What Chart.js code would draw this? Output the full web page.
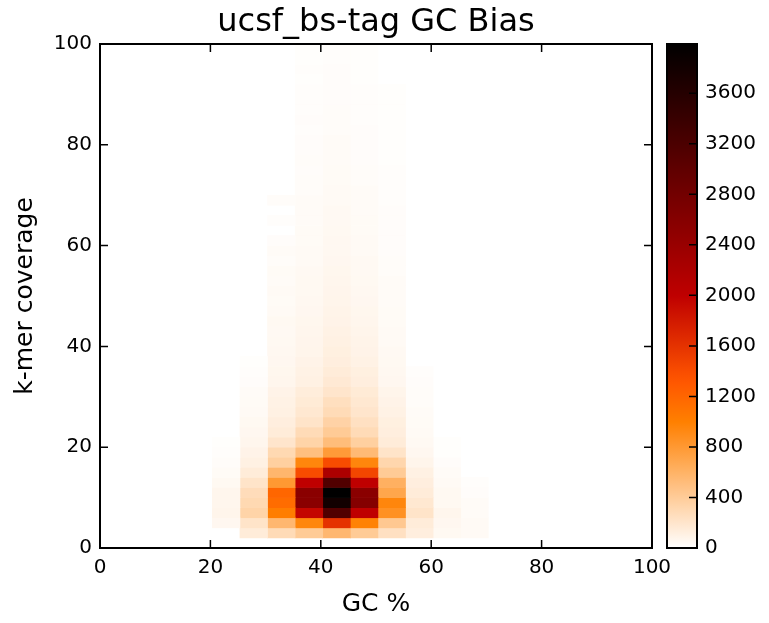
<!DOCTYPE html>
<html>
<head>
<meta charset="UTF-8">
<title>ucsf_bs-tag GC Bias</title>
<script src="https://cdn.jsdelivr.net/npm/chart.js"></script>
<style>
  body { margin: 0; background: #fff; }
  #wrap { position: relative; width: 769px; height: 623px; }
  #main { position: absolute; left: 0; top: 0; }
  #cbar { position: absolute; left: 665px; top: 0; }
</style>
</head>
<body>
<div id="wrap">
  <canvas id="main" width="769" height="623"></canvas>
  <canvas id="cbar" width="104" height="623"></canvas>
</div>
<script>
// GC % bin starts (width 5) and k-mer coverage bin starts (height 2)
const gcBins = [20.35, 25.35, 30.35, 35.35, 40.35, 45.35, 50.35, 55.35, 60.35, 65.35];
const covBins = [2,4,6,8,10,12,14,16,18,20,22,24,26,28,30,32,34,36,38,40,42,44,46,48,50,
                 52,54,56,58,60,62,64,66,68,70,72,74,76,78,80,82,84,86,88,90,92,94,96,98];
const binW = 5, binH = 2;

// counts per GC column, from coverage 2 upwards
const gc20 = [0,60,80,70,70,50,35,25,15,10, 0,0,0,0,0,0,0,0,0,0, 0,0,0,0,0,0,0,0,0,0, 0,0,0,0,0,0,0,0,0,0, 0,0,0,0,0,0,0,0,0];
const gc25 = [150,210,340,300,270,210,150,110,90,70, 60,50,40,35,30,20,15,10,0,0, 0,0,0,0,0,0,0,0,0,0, 0,0,0,0,0,0,0,0,0,0, 0,0,0,0,0,0,0,0,0];
const gc30 = [280,560,1020,1150,1200,800,570,370,300,200, 150,130,110,100,90,70,65,60,55,50, 45,50,40,35,40,30,35,25,30,20, 0,15,0,25,0,0,0,0,0,0, 0,0,0,0,0,0,0,0,0];
const gc35 = [410,950,1950,2550,2550,2000,1400,950,500,340, 280,210,180,160,140,110,100,90,80,75, 70,65,60,55,50,50,45,40,40,35, 35,30,30,30,25,25,20,25,20,20, 15,20,15,15,15,10,15,10,10];
const gc40 = [560,1600,3150,3800,3990,3150,2200,1400,780,520, 410,350,280,250,200,170,150,130,120,110, 100,90,85,80,75,70,65,60,55,55, 50,45,45,40,40,35,35,30,30,30, 25,25,25,20,20,20,20,15,15];
const gc45 = [410,980,2000,2600,2550,2000,1450,950,540,370, 280,240,200,180,160,130,120,100,90,85, 80,70,65,60,55,50,45,45,40,40, 35,35,30,30,30,25,25,20,20,20, 20,15,15,15,15,10,10,10,10];
const gc50 = [240,430,860,950,700,620,410,320,210,150, 130,120,100,90,80,60,55,50,45,40, 40,35,35,30,30,30,25,25,20,20, 20,20,20,15,15,15,15,10,10,10, 10,10,10,10,10,0,0,0,0];
const gc55 = [130,150,210,180,150,130,110,80,60,45, 40,35,30,25,25,20,15,0,0,0, 0,0,0,0,0,0,0,0,0,0, 0,0,0,0,0,0,0,0,0,0, 0,0,0,0,0,0,0,0,0];
const gc60 = [50,60,70,50,50,40,30,20,10,10, 0,0,0,0,0,0,0,0,0,0, 0,0,0,0,0,0,0,0,0,0, 0,0,0,0,0,0,0,0,0,0, 0,0,0,0,0,0,0,0,0];
const gc65 = [40,40,30,30,20,15,0,0,0,0, 0,0,0,0,0,0,0,0,0,0, 0,0,0,0,0,0,0,0,0,0, 0,0,0,0,0,0,0,0,0,0, 0,0,0,0,0,0,0,0,0];
const columns = [gc20, gc25, gc30, gc35, gc40, gc45, gc50, gc55, gc60, gc65];

const vmax = 3990;
const axisTicks = [0, 20, 40, 60, 80, 100];
const cbTicks = [0, 400, 800, 1200, 1600, 2000, 2400, 2800, 3200, 3600];

Chart.defaults.font.family = 'DejaVu Sans';
Chart.defaults.color = '#000';

// gist_heat reversed
function heat(t) {
  const x = 1 - Math.max(0, Math.min(1, t));
  const c = v => Math.round(255 * Math.max(0, Math.min(1, v)));
  return `rgb(${c(1.5 * x)},${c(2 * x - 1)},${c(4 * x - 3)})`;
}

// box around the plot area + ticks pointing inwards
const frameTicks = {
  id: 'frameTicks',
  afterDraw(chart, args, opts) {
    const { ctx, chartArea: a, scales } = chart;
    const len = 8;
    ctx.save();
    ctx.strokeStyle = '#000';
    ctx.lineWidth = 1.5;
    ctx.beginPath();
    if (opts.xTicks) {
      scales.x.ticks.forEach(t => {
        const px = scales.x.getPixelForValue(t.value);
        ctx.moveTo(px, a.bottom); ctx.lineTo(px, a.bottom - len);
        ctx.moveTo(px, a.top); ctx.lineTo(px, a.top + len);
      });
    }
    scales.y.ticks.forEach(t => {
      const py = scales.y.getPixelForValue(t.value);
      if (opts.left) { ctx.moveTo(a.left, py); ctx.lineTo(a.left + len, py); }
      ctx.moveTo(a.right, py); ctx.lineTo(a.right - len, py);
    });
    ctx.stroke();
    ctx.lineWidth = 2;
    ctx.strokeRect(a.left, a.top, a.right - a.left, a.bottom - a.top);
    ctx.restore();
  }
};

const datasets = columns.map((col, i) => ({
  data: col.map((v, j) => ({ x: gcBins[i] + binW / 2, y: [covBins[j], covBins[j] + binH], v }))
           .filter(d => d.v > 0),
  backgroundColor: ctx => heat(ctx.raw ? ctx.raw.v / vmax : 0),
  borderWidth: 0,
  grouped: false,
  barPercentage: 1,
  categoryPercentage: 1
}));

const plain = v => String(v);

new Chart(document.getElementById('main'), {
  type: 'bar',
  data: { datasets },
  plugins: [frameTicks],
  options: {
    responsive: false,
    animation: false,
    layout: { padding: { left: 0, right: 117, top: 0, bottom: 0 } },
    scales: {
      x: {
        type: 'linear', min: 0, max: 100, offset: false,
        afterBuildTicks: s => { s.ticks = axisTicks.map(v => ({ value: v })); },
        afterFit: s => { s.height = 75; },
        grid: { display: false, drawTicks: false },
        border: { display: false },
        ticks: { font: { size: 20 }, padding: 8, maxRotation: 0, callback: plain },
        title: { display: true, text: 'GC %', font: { size: 25 }, padding: { top: 0, bottom: 4 } }
      },
      // top axis only carries the chart title, centred over the plot box
      top: {
        type: 'linear', position: 'top', min: 0, max: 100,
        afterFit: s => { s.height = 44; },
        grid: { display: false, drawTicks: false },
        border: { display: false },
        ticks: { display: false },
        title: { display: true, text: 'ucsf_bs-tag GC Bias', font: { size: 32 }, padding: { top: 3, bottom: 0 } }
      },
      y: {
        type: 'linear', min: 0, max: 100,
        afterBuildTicks: s => { s.ticks = axisTicks.map(v => ({ value: v })); },
        afterFit: s => { s.width = 100; },
        grid: { display: false, drawTicks: false },
        border: { display: false },
        ticks: { font: { size: 20 }, padding: 8, callback: plain },
        title: { display: true, text: 'k-mer coverage', font: { size: 25 }, padding: { top: 10, bottom: 0 } }
      }
    },
    plugins: {
      legend: { display: false },
      tooltip: { enabled: false },
      frameTicks: { xTicks: true, left: true }
    }
  }
});

// colour bar
const gradientFill = {
  id: 'gradientFill',
  beforeDatasetsDraw(chart) {
    const { ctx, chartArea: a, scales } = chart;
    const g = ctx.createLinearGradient(0, scales.y.getPixelForValue(0), 0, scales.y.getPixelForValue(vmax));
    for (let i = 0; i <= 40; i++) g.addColorStop(i / 40, heat(i / 40));
    ctx.save();
    ctx.fillStyle = g;
    ctx.fillRect(a.left, a.top, a.right - a.left, a.bottom - a.top);
    ctx.restore();
  }
};

new Chart(document.getElementById('cbar'), {
  type: 'bar',
  data: { labels: [''], datasets: [] },
  plugins: [gradientFill, frameTicks],
  options: {
    responsive: false,
    animation: false,
    layout: { padding: { left: 2, right: 0, top: 44, bottom: 75 } },
    scales: {
      x: { display: false },
      y: {
        position: 'right', min: 0, max: vmax,
        afterBuildTicks: s => { s.ticks = cbTicks.map(v => ({ value: v })); },
        afterFit: s => { s.width = 72; },
        grid: { display: false, drawTicks: false },
        border: { display: false },
        ticks: { font: { size: 20 }, padding: 8, callback: plain }
      }
    },
    plugins: {
      legend: { display: false },
      tooltip: { enabled: false },
      frameTicks: { xTicks: false, left: false }
    }
  }
});
</script>
</body>
</html>
